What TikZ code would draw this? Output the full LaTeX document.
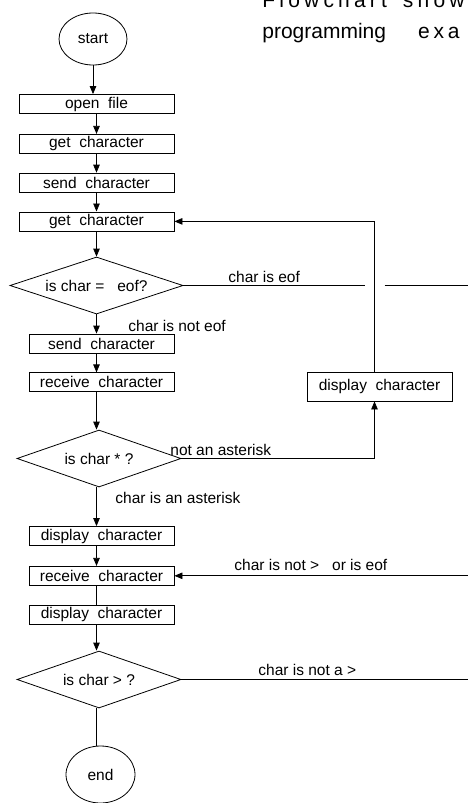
\documentclass[tikz,border=0pt]{standalone}
\usepackage{fontspec}
\setmainfont{Liberation Sans}
\usetikzlibrary{arrows.meta, positioning, shapes.geometric}

\begin{document}
\begin{tikzpicture}[x=1pt, y=-1pt, font=\fontsize{15.5}{18}\selectfont, >={Triangle[length=8pt, width=6.5pt]}, line width=0.8pt,
    stepbox/.style={draw, minimum width=155pt, minimum height=19pt, inner sep=0pt},
    narrowbox/.style={stepbox, minimum width=145pt},
    test/.style={draw, diamond, aspect=2.9, minimum width=164pt, minimum height=57pt, inner sep=0pt},
    terminal/.style={draw, ellipse, inner sep=0pt},
    lbl/.style={anchor=base west, inner sep=0pt}]
    \useasboundingbox (0,0) rectangle (468,803);

    % title, cut by the page edge
    \node[lbl, font=\fontsize{21}{25}\selectfont\addfontfeature{LetterSpace=20}] (head1) at (262,7) {Flowchart\hspace{16pt}show};
    \node[lbl, font=\fontsize{21}{25}\selectfont] (head2) at (262,38.5) {programming\hspace{32pt}{\addfontfeature{LetterSpace=18}exa}};

    \node[terminal, minimum width=68pt, minimum height=52pt] (start) at (93,39) {start};
    \node[stepbox] (open) at (96.5,104) {open~~file};
    \node[stepbox, below=20pt of open] (get1) {get~~character};
    \node[stepbox, below=19pt of get1] (send1) {send~~character};
    \node[stepbox, below=19pt of send1] (get2) {get~~character};
    \node[test, minimum width=173pt] (eof) at (96.5,285.5) {is char =~~~eof?};
    \node[narrowbox] (send2) at (101.5,343.5) {send~~character};
    \node[narrowbox, below=19pt of send2] (recv1) {receive~~character};
    \node[narrowbox, minimum height=29pt] (show) at (379.5,386.5) {display~~character};
    \node[test] (star) at (99,458.5) {is char * ?};
    \node[narrowbox] (disp1) at (101.5,536) {display~~character};
    \node[narrowbox, below=20pt of disp1] (recv2) {receive~~character};
    \node[narrowbox, below=19pt of recv2] (disp2) {display~~character};
    \node[test] (gt) at (99,679.5) {is char > ?};
    \node[terminal, minimum width=69pt, minimum height=57pt] (end) at (100.5,774.5) {end};

    \coordinate (spine) at (96.5,0);
    \coordinate (loop) at (374.5,0);
    \coordinate (gapl) at (365,0);
    \coordinate (gapr) at (384.5,0);
    \coordinate (edge) at (472,0);

    % main column
    \draw[->] (start.south) -- (start.south |- open.north);
    \draw[->] (open) -- (get1);
    \draw[->] (get1) -- (send1);
    \draw[->] (send1) -- (get2);
    \draw[->] (get2) -- (eof);
    \draw[->] (eof.south) -- (eof.south |- send2.north);
    \draw[->] (send2.south -| spine) -- (recv1.north -| spine);
    \draw[->] (recv1.south -| spine) -- (star.north -| spine);
    \draw[->] (star.south -| spine) -- (disp1.north -| spine);
    \draw[->] (disp1.south -| spine) -- (recv2.north -| spine);
    \draw (recv2.south -| spine) -- (disp2.north -| spine);
    \draw[->] (disp2.south -| spine) -- (gt.north -| spine);
    \draw (gt.south -| spine) -- (end.north -| spine);

    % branches
    \draw (eof.east) -- (eof.east -| gapl);
    \draw (eof.east -| gapr) -- (eof.east -| edge);
    \draw[->] (star.east) -| (show.south -| loop);
    \draw[->] (show.north -| loop) |- (get2.east);
    \draw[->] (recv2.east -| edge) -- (recv2.east);
    \draw (gt.east) -- (gt.east -| edge);

    \node[lbl] (leof) at (228,282) {char is eof};
    \node[lbl] (lnoteof) at (128,331) {char is not eof};
    \node[lbl] (lnotstar) at (170,455) {not an asterisk};
    \node[lbl] (lstar) at (115,503) {char is an asterisk};
    \node[lbl] (lback) at (234,570) {char is not >~~~or is eof};
    \node[lbl] (lnotgt) at (258,675) {char is not a >};
\end{tikzpicture}
\end{document}
